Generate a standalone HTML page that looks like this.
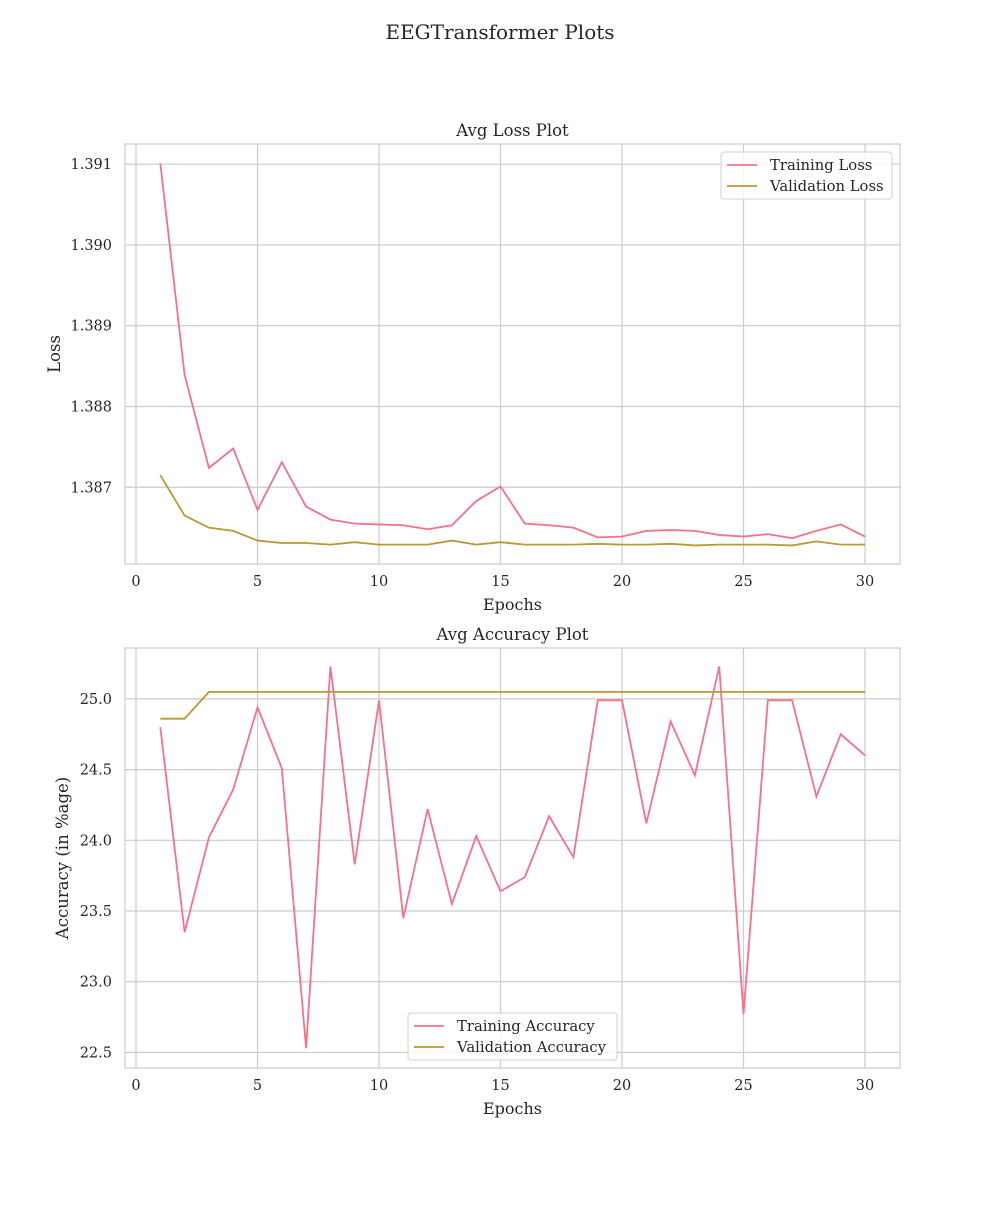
<!DOCTYPE html>
<html><head><meta charset="utf-8"><style>
body{margin:0;background:#fff}
svg text{font-family:"DejaVu Serif","Liberation Serif",serif;fill:#262626}
</style></head><body>
<svg id="svg" width="1000" height="1200">
<text x="500" y="39" font-size="20" text-anchor="middle">EEGTransformer Plots</text>
</svg>
<script>
const epochs=[1,2,3,4,5,6,7,8,9,10,11,12,13,14,15,16,17,18,19,20,21,22,23,24,25,26,27,28,29,30];
const trainLoss=[1.39101,1.38839,1.38724,1.38748,1.38672,1.38731,1.38676,1.38660,1.38655,1.38654,1.38653,1.38648,1.38653,1.38683,1.38701,1.38655,1.38653,1.38650,1.38638,1.38639,1.38646,1.38647,1.38646,1.38641,1.38639,1.38642,1.38637,1.38646,1.38654,1.38639];
const valLoss=[1.38715,1.38665,1.38650,1.38646,1.38634,1.38631,1.38631,1.38629,1.38632,1.38629,1.38629,1.38629,1.38634,1.38629,1.38632,1.38629,1.38629,1.38629,1.38630,1.38629,1.38629,1.38630,1.38628,1.38629,1.38629,1.38629,1.38628,1.38633,1.38629,1.38629];
const trainAcc=[24.80,23.35,24.02,24.36,24.94,24.51,22.53,25.23,23.83,24.99,23.45,24.22,23.55,24.03,23.64,23.74,24.17,23.88,24.99,24.99,24.12,24.84,24.46,25.23,22.77,24.99,24.99,24.31,24.75,24.60];
const valAcc=[24.86,24.86,25.05,25.05,25.05,25.05,25.05,25.05,25.05,25.05,25.05,25.05,25.05,25.05,25.05,25.05,25.05,25.05,25.05,25.05,25.05,25.05,25.05,25.05,25.05,25.05,25.05,25.05,25.05,25.05];
const xTicks=[0,5,10,15,20,25,30];
const lossTicks=[1.387,1.388,1.389,1.390,1.391];
const accTicks=[22.5,23.0,23.5,24.0,24.5,25.0];
const svg=document.getElementById('svg');const NS='http://www.w3.org/2000/svg';
function mk(t,a,txt){const e=document.createElementNS(NS,t);for(const k in a)e.setAttribute(k,a[k]);if(txt!==undefined)e.textContent=txt;svg.appendChild(e);return e;}
const C1='#f77189',C2='#bb9832';
function panel(o){
 const L=125,R=900,T=o.top,B=o.top+420;
 const xs=v=>136+(v-0)*(865-136)/30;
 const ys=v=>B-(v-o.ymin)/(o.ymax-o.ymin)*(B-T);
 let g;
 g=mk('rect',{x:L,y:T,width:R-L,height:B-T,fill:'#fff',stroke:'#cccccc','stroke-width':1.2});
 
 xTicks.forEach(t=>{const x=xs(t);
  g=mk('line',{x1:x,x2:x,y1:T,y2:B,stroke:'#cccccc','stroke-width':1.2});
  
  g=mk('text',{x:x,y:B+22,'font-size':14.5,'text-anchor':'middle'},String(t));
  });
 o.ticks.forEach(t=>{const y=ys(t);
  g=mk('line',{x1:L,x2:R,y1:y,y2:y,stroke:'#cccccc','stroke-width':1.2});
  
  g=mk('text',{x:L-13,y:y+5,'font-size':14.5,'text-anchor':'end'},t.toFixed(o.dec));
  });
 [[o.s1,C1,'training'],[o.s2,C2,'validation']].forEach(([s,c,n])=>{
  g=mk('polyline',{points:s.map((v,i)=>xs(epochs[i])+','+ys(v)).join(' '),fill:'none',stroke:c,'stroke-width':1.8});
  });
 g=mk('text',{x:(L+R)/2,y:T-8,'font-size':16.5,'text-anchor':'middle'},o.title);
 
 g=mk('text',{x:(L+R)/2,y:B+46,'font-size':16,'text-anchor':'middle'},'Epochs');
 
 g=mk('text',{x:0,y:0,'font-size':16.5,'text-anchor':'middle',transform:`translate(${o.yl},${(T+B)/2}) rotate(-90)`},o.ylabel);
 
 const lg=o.leg;
 g=mk('rect',{x:lg.x,y:lg.y,width:lg.w,height:47,rx:3,fill:'#fff','fill-opacity':0.8,stroke:'#d0d0d0'});
 
 [[o.n1,C1],[o.n2,C2]].forEach(([n,c],i)=>{const y=lg.y+13+i*21;
  g=mk('line',{x1:lg.x+6,x2:lg.x+36,y1:y,y2:y,stroke:c,'stroke-width':1.8});
  
  g=mk('text',{x:lg.x+49,y:y+5,'font-size':14.8},n);
  });
}
panel({p:'loss',top:144,ymin:1.38605,ymax:1.39125,ticks:lossTicks,dec:3,s1:trainLoss,s2:valLoss,title:'Avg Loss Plot',ylabel:'Loss',yl:60,n1:'Training Loss',n2:'Validation Loss',leg:{x:721,y:152,w:171}});
panel({p:'acc',top:648,ymin:22.39,ymax:25.36,ticks:accTicks,dec:1,s1:trainAcc,s2:valAcc,title:'Avg Accuracy Plot',ylabel:'Accuracy (in %age)',yl:68,n1:'Training Accuracy',n2:'Validation Accuracy',leg:{x:408,y:1013,w:209}});
</script>
</body></html>
